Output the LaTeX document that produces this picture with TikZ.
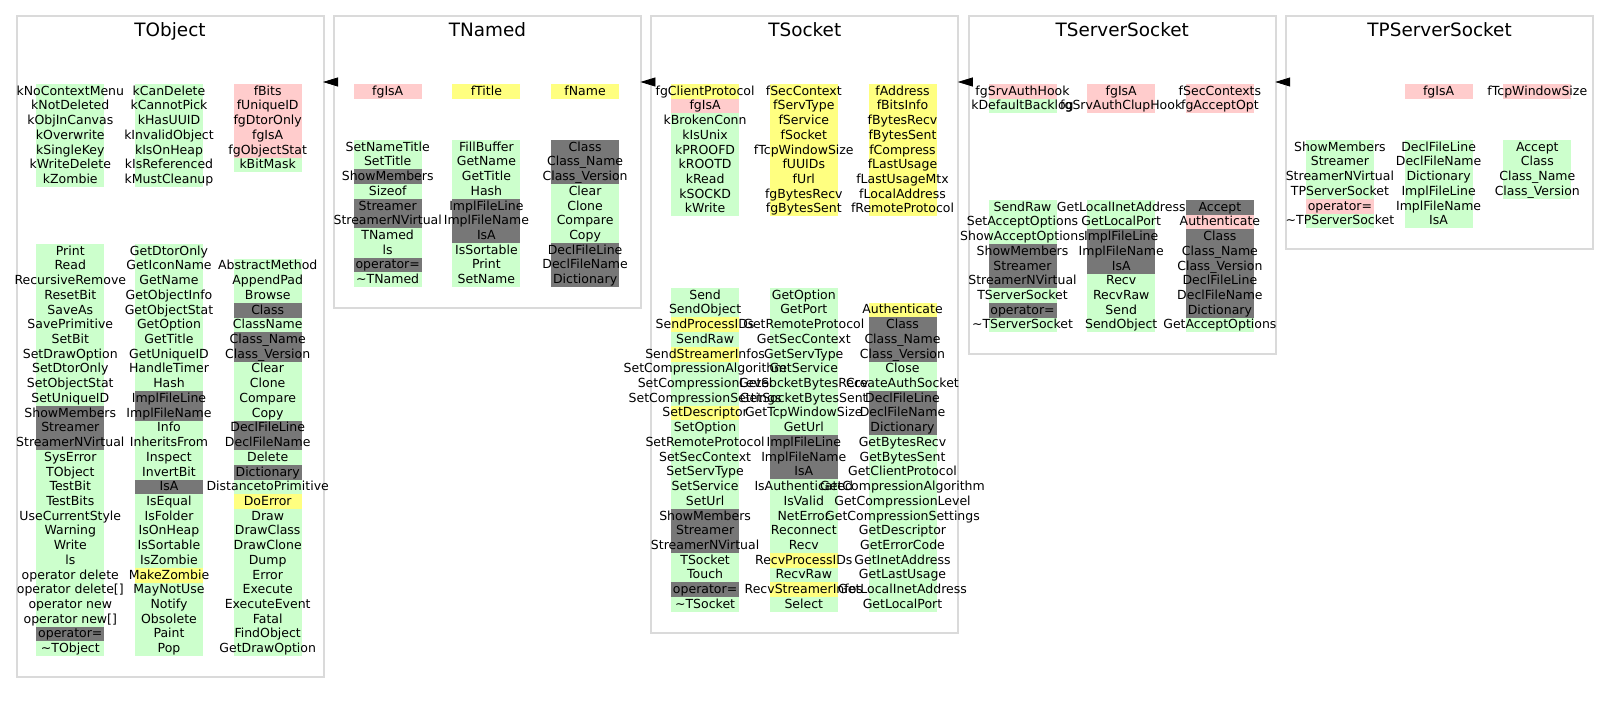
\documentclass[tikz,border=0pt]{standalone}
\usepackage{fontspec}
\setmainfont{DejaVu Sans}
\usetikzlibrary{arrows.meta}
\definecolor{G}{HTML}{CCFFCC}
\definecolor{P}{HTML}{FFCCCC}
\definecolor{Y}{HTML}{FFFF80}
\definecolor{K}{HTML}{777777}
\definecolor{frame}{HTML}{DADADA}
\tikzset{
  lbl/.style={font=\fontsize{12.5}{14}\selectfont, inner sep=0pt, anchor=base},
  ttl/.style={font=\fontsize{18.4}{20}\selectfont, inner sep=0pt, anchor=base},
  classbox/.style={draw=frame, line width=2pt, minimum width=307pt, inner sep=0pt, anchor=north west},
  inh/.style={-{Triangle[length=15pt,width=9pt]}, line width=0.8pt, black}
}
% member columns: name prefix, x centre, top y, list of colour/text
\newcommand\barpass[4]{%
  \foreach [count=\i] \cl/\tx in {#4} {%
    \pgfmathsetmacro\yt{#3+(\i-1)*14.72}%
    \fill[fill=\cl] (#2-34,\yt) rectangle ++(68,14.72);
  }}
\newcommand\textpass[4]{%
  \foreach [count=\i] \cl/\tx in {#4} {%
    \pgfmathsetmacro\yt{#3+(\i-1)*14.72}%
    \node[lbl] (#1-\i) at (#2,\yt+11.2) {\tx};
  }}
\newcommand\allcols{%
% ---------------- TObject ----------------
\membercol{tobj-f1}{70.3}{84}{G/kNoContextMenu, G/kNotDeleted, G/kObjInCanvas, G/kOverwrite, G/kSingleKey, G/kWriteDelete, G/kZombie}
\membercol{tobj-f2}{169.0}{84}{G/kCanDelete, G/kCannotPick, G/kHasUUID, G/kInvalidObject, G/kIsOnHeap, G/kIsReferenced, G/kMustCleanup}
\membercol{tobj-f3}{267.7}{84}{P/fBits, P/fUniqueID, P/fgDtorOnly, P/fgIsA, P/fgObjectStat, G/kBitMask}
\membercol{tobj-m1}{70.3}{244}{G/Print, G/Read, G/RecursiveRemove, G/ResetBit, G/SaveAs, G/SavePrimitive, G/SetBit, G/SetDrawOption, G/SetDtorOnly, G/SetObjectStat, G/SetUniqueID, K/ShowMembers, K/Streamer, K/StreamerNVirtual, G/SysError, G/TObject, G/TestBit, G/TestBits, G/UseCurrentStyle, G/Warning, G/Write, G/ls, G/operator delete, G/operator delete[], G/operator new, G/operator new[], K/operator=, G/\textasciitilde TObject}
\membercol{tobj-m2}{169.0}{244}{G/GetDtorOnly, G/GetIconName, G/GetName, G/GetObjectInfo, G/GetObjectStat, G/GetOption, G/GetTitle, G/GetUniqueID, G/HandleTimer, G/Hash, K/ImplFileLine, K/ImplFileName, G/Info, G/InheritsFrom, G/Inspect, G/InvertBit, K/IsA, G/IsEqual, G/IsFolder, G/IsOnHeap, G/IsSortable, G/IsZombie, Y/MakeZombie, G/MayNotUse, G/Notify, G/Obsolete, G/Paint, G/Pop}
\membercol{tobj-m3}{267.7}{258.72}{G/AbstractMethod, G/AppendPad, G/Browse, K/Class, G/ClassName, K/Class\_Name, K/Class\_Version, G/Clear, G/Clone, G/Compare, G/Copy, K/DeclFileLine, K/DeclFileName, G/Delete, K/Dictionary, G/DistancetoPrimitive, Y/DoError, G/Draw, G/DrawClass, G/DrawClone, G/Dump, G/Error, G/Execute, G/ExecuteEvent, G/Fatal, G/FindObject, G/GetDrawOption}
% ---------------- TNamed ----------------
\membercol{tnam-f1}{387.7}{84}{P/fgIsA}
\membercol{tnam-f2}{486.4}{84}{Y/fTitle}
\membercol{tnam-f3}{585.1}{84}{Y/fName}
\membercol{tnam-m1}{387.7}{140}{G/SetNameTitle, G/SetTitle, K/ShowMembers, G/Sizeof, K/Streamer, K/StreamerNVirtual, G/TNamed, G/ls, K/operator=, G/\textasciitilde TNamed}
\membercol{tnam-m2}{486.4}{140}{G/FillBuffer, G/GetName, G/GetTitle, G/Hash, K/ImplFileLine, K/ImplFileName, K/IsA, G/IsSortable, G/Print, G/SetName}
\membercol{tnam-m3}{585.1}{140}{K/Class, K/Class\_Name, K/Class\_Version, G/Clear, G/Clone, G/Compare, G/Copy, K/DeclFileLine, K/DeclFileName, K/Dictionary}
% ---------------- TSocket ----------------
\membercol{tsock-f1}{705.1}{84}{Y/fgClientProtocol, P/fgIsA, G/kBrokenConn, G/kIsUnix, G/kPROOFD, G/kROOTD, G/kRead, G/kSOCKD, G/kWrite}
\membercol{tsock-f2}{803.8}{84}{Y/fSecContext, Y/fServType, Y/fService, Y/fSocket, Y/fTcpWindowSize, Y/fUUIDs, Y/fUrl, Y/fgBytesRecv, Y/fgBytesSent}
\membercol{tsock-f3}{902.5}{84}{Y/fAddress, Y/fBitsInfo, Y/fBytesRecv, Y/fBytesSent, Y/fCompress, Y/fLastUsage, Y/fLastUsageMtx, Y/fLocalAddress, Y/fRemoteProtocol}
\membercol{tsock-m1}{705.1}{288}{G/Send, G/SendObject, Y/SendProcessIDs, G/SendRaw, Y/SendStreamerInfos, G/SetCompressionAlgorithm, G/SetCompressionLevel, G/SetCompressionSettings, Y/SetDescriptor, G/SetOption, G/SetRemoteProtocol, G/SetSecContext, G/SetServType, G/SetService, G/SetUrl, K/ShowMembers, K/Streamer, K/StreamerNVirtual, G/TSocket, G/Touch, K/operator=, G/\textasciitilde TSocket}
\membercol{tsock-m2}{803.8}{288}{G/GetOption, G/GetPort, G/GetRemoteProtocol, G/GetSecContext, G/GetServType, G/GetService, G/GetSocketBytesRecv, G/GetSocketBytesSent, G/GetTcpWindowSize, G/GetUrl, K/ImplFileLine, K/ImplFileName, K/IsA, G/IsAuthenticated, G/IsValid, G/NetError, G/Reconnect, G/Recv, Y/RecvProcessIDs, G/RecvRaw, Y/RecvStreamerInfos, G/Select}
\membercol{tsock-m3}{902.5}{302.72}{Y/Authenticate, K/Class, K/Class\_Name, K/Class\_Version, G/Close, G/CreateAuthSocket, K/DeclFileLine, K/DeclFileName, K/Dictionary, G/GetBytesRecv, G/GetBytesSent, G/GetClientProtocol, G/GetCompressionAlgorithm, G/GetCompressionLevel, G/GetCompressionSettings, G/GetDescriptor, G/GetErrorCode, G/GetInetAddress, G/GetLastUsage, G/GetLocalInetAddress, G/GetLocalPort}
% ---------------- TServerSocket ----------------
\membercol{tsrv-f1}{1022.5}{84}{P/fgSrvAuthHook, G/kDefaultBacklog}
\membercol{tsrv-f2}{1121.2}{84}{P/fgIsA, P/fgSrvAuthClupHook}
\membercol{tsrv-f3}{1219.9}{84}{P/fSecContexts, P/fgAcceptOpt}
\membercol{tsrv-m1}{1022.5}{200}{G/SendRaw, G/SetAcceptOptions, G/ShowAcceptOptions, K/ShowMembers, K/Streamer, K/StreamerNVirtual, G/TServerSocket, K/operator=, G/\textasciitilde TServerSocket}
\membercol{tsrv-m2}{1121.2}{200}{G/GetLocalInetAddress, G/GetLocalPort, K/ImplFileLine, K/ImplFileName, K/IsA, G/Recv, G/RecvRaw, G/Send, G/SendObject}
\membercol{tsrv-m3}{1219.9}{200}{K/Accept, P/Authenticate, K/Class, K/Class\_Name, K/Class\_Version, K/DeclFileLine, K/DeclFileName, K/Dictionary, G/GetAcceptOptions}
% ---------------- TPServerSocket ----------------
\membercol{tpsrv-f2}{1438.6}{84}{P/fgIsA}
\membercol{tpsrv-f3}{1537.3}{84}{P/fTcpWindowSize}
\membercol{tpsrv-m1}{1339.9}{140}{G/ShowMembers, G/Streamer, G/StreamerNVirtual, G/TPServerSocket, P/operator=, G/\textasciitilde TPServerSocket}
\membercol{tpsrv-m2}{1438.6}{140}{G/DeclFileLine, G/DeclFileName, G/Dictionary, G/ImplFileLine, G/ImplFileName, G/IsA}
\membercol{tpsrv-m3}{1537.3}{140}{G/Accept, G/Class, G/Class\_Name, G/Class\_Version}
}
\begin{document}
\begin{tikzpicture}[x=1pt,y=-1pt]
\useasboundingbox (0,0) rectangle (1608,703);

% class frames and titles
\node[classbox, minimum height=660.5pt] (tobj) at (15.5,15.5) {};
\node[classbox, minimum height=291.2pt] (tnam) at (332.9,15.5) {};
\node[classbox, minimum height=616.2pt] (tsock) at (650.3,15.5) {};
\node[classbox, minimum height=337.8pt] (tsrv) at (967.7,15.5) {};
\node[classbox, minimum height=232.8pt] (tpsrv) at (1285.1,15.5) {};
\foreach \b/\n in {tobj/TObject, tnam/TNamed, tsock/TSocket, tsrv/TServerSocket, tpsrv/TPServerSocket}
  \node[ttl] (\b-title) at ([yshift=-21.5pt]\b.north) {\n};

% inheritance arrows
\foreach \a/\b in {tnam/tobj, tsock/tnam, tsrv/tsock, tpsrv/tsrv}
  \draw[inh] ([yshift=-66.5pt]\a.north west) -- ([xshift=-1.5pt,yshift=-66.5pt]\b.north east);

% coloured bars first, member names on top
\let\membercol\barpass
\allcols
\let\membercol\textpass
\allcols
\end{tikzpicture}
\end{document}
